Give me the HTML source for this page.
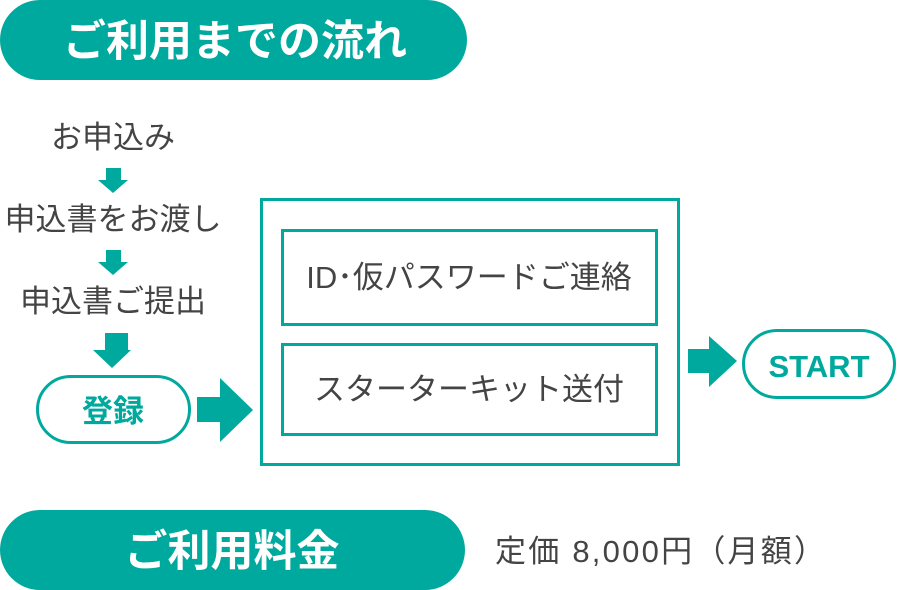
<!DOCTYPE html>
<html><head><meta charset="utf-8"><style>
html,body{margin:0;padding:0;background:#fff;width:900px;height:590px;overflow:hidden}
svg text{font-family:"Liberation Sans","Noto Sans CJK JP",sans-serif}
</style></head><body>
<svg width="900" height="590" viewBox="0 0 900 590" xmlns="http://www.w3.org/2000/svg">
<g fill="#00A99D">
<rect x="0" y="0" width="467" height="80" rx="40"/>
<rect x="0" y="510" width="465" height="80" rx="40"/>
<rect x="106" y="168" width="15" height="12"/><polygon points="98,180 128,180 113,193"/>
<rect x="106" y="250" width="15" height="12"/><polygon points="98,262 128,262 113,275"/>
<rect x="105" y="333" width="23" height="17"/><polygon points="93,350 131,350 112,368"/>
<rect x="197" y="397" width="24" height="25"/><polygon points="220,378 253,410 220,442"/>
<rect x="688" y="349" width="22" height="24"/><polygon points="709,336 737,361 709,387"/>
</g>
<g fill="none" stroke="#00A99D" stroke-width="3">
<rect x="37.5" y="376.5" width="152" height="66" rx="33"/>
<rect x="261.5" y="199.5" width="417" height="265"/>
<rect x="282.5" y="230.5" width="374" height="94"/>
<rect x="282.5" y="344.5" width="374" height="90"/>
<rect x="743.5" y="330.5" width="151" height="67" rx="33.5"/>
</g>
<g fill="#fff" font-weight="bold" text-anchor="middle">
<text x="235" y="56" font-size="43">ご利用までの流れ</text>
<text x="232" y="566" font-size="43">ご利用料金</text>
</g>
<g fill="#444" text-anchor="middle" font-size="31">
<text x="113" y="148">お申込み</text>
<text x="113" y="230">申込書をお渡し</text>
<text x="113" y="312">申込書ご提出</text>
<text x="469" y="288">ID･仮パスワードご連絡</text>
<text x="469" y="400">スターターキット送付</text>
</g>
<text x="495" y="562" font-size="31" fill="#444" textLength="330" lengthAdjust="spacing">定価 8,000円（月額）</text>
<g fill="#00A99D" font-weight="bold" text-anchor="middle">
<text x="113" y="422" font-size="31">登録</text>
<text x="819" y="377" font-size="31">START</text>
</g>
</svg>
</body></html>
